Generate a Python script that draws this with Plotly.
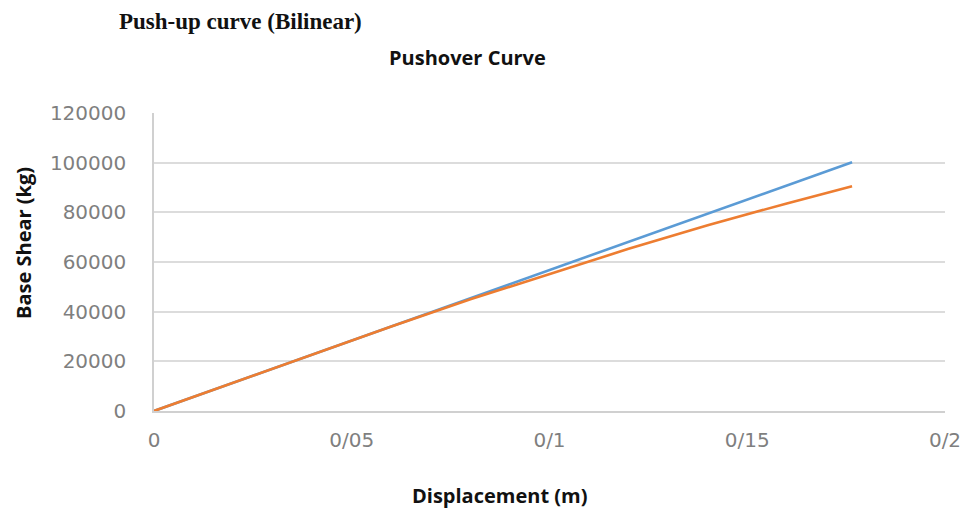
import plotly.graph_objects as go

# Data
blue_disp = [0, 0.1765]
blue_shear = [0, 100200]

orange_disp = [0, 0.02, 0.04, 0.06, 0.08, 0.10, 0.12, 0.14, 0.16, 0.1765]
orange_shear = [0, 11350, 22700, 34000, 45000, 55300, 65300, 74800, 83600, 90500]

x_tickvals = [0, 0.05, 0.1, 0.15, 0.2]
x_ticktext = ["0", "0/05", "0/1", "0/15", "0/2"]
y_tickvals = [0, 20000, 40000, 60000, 80000, 100000, 120000]
y_ticktext = ["0", "20000", "40000", "60000", "80000", "100000", "120000"]

fig = go.Figure()
fig.add_trace(go.Scatter(x=blue_disp, y=blue_shear, mode="lines",
                         line=dict(color="#5b9bd5", width=2.6), showlegend=False))
fig.add_trace(go.Scatter(x=orange_disp, y=orange_shear, mode="lines",
                         line=dict(color="#ed7d31", width=2.6), showlegend=False))

W, H = 965, 510
L, T = 154, 113
R = W - 945
B = H - 411

tick_font = dict(family="DejaVu Sans", size=20, color="#7f7f7f")
fig.update_layout(
    width=W, height=H,
    margin=dict(l=L, r=R, t=T, b=B),
    paper_bgcolor="white", plot_bgcolor="white",
    xaxis=dict(range=[0, 0.2], tickvals=x_tickvals, ticktext=x_ticktext,
               showgrid=False, zeroline=False, showline=True, linecolor="#d0d0d0",
               linewidth=1.5, ticks="outside", ticklen=10, tickcolor="rgba(0,0,0,0)",
               tickfont=tick_font, ticklabeloverflow="allow", automargin=False),
    yaxis=dict(range=[0, 120000], tickvals=y_tickvals, ticktext=y_ticktext,
               showgrid=True, gridcolor="#dcdcdc", gridwidth=1.5, zeroline=False,
               showline=True, linecolor="#d0d0d0", linewidth=1.5,
               ticks="outside", ticklen=22, tickcolor="rgba(0,0,0,0)",
               tickfont=tick_font, automargin=False),
    annotations=[
        dict(text="<b>Push-up curve (Bilinear)</b>", xref="paper", yref="paper",
             x=(117 - 154) / 791, y=(411 - 21) / 298, xanchor="left", yanchor="middle",
             showarrow=False, font=dict(family="Liberation Serif", size=23, color="#111")),
        dict(text="<b>Pushover Curve</b>", xref="paper", yref="paper",
             x=(467 - 154) / 791, y=(411 - 57) / 298, xanchor="center", yanchor="middle",
             showarrow=False, font=dict(family="Open Sans", size=20, color="#111")),
        dict(text="<b>Displacement (m)</b>", xref="paper", yref="paper",
             x=(499 - 154) / 791, y=(411 - 495) / 298, xanchor="center", yanchor="middle",
             showarrow=False, font=dict(family="Open Sans", size=20, color="#111")),
        dict(text="<b>Base Shear (kg)</b>", xref="paper", yref="paper",
             x=(23 - 154) / 791, y=(411 - 243) / 298, xanchor="center", yanchor="middle",
             textangle=-90, showarrow=False,
             font=dict(family="Open Sans", size=20, color="#111")),
    ],
)

# remove the page's default body margin so the figure fills the window
fig.write_html("out.html", config={"displayModeBar": False},
               post_script="document.body.style.margin='0';document.body.style.overflow='hidden';")
